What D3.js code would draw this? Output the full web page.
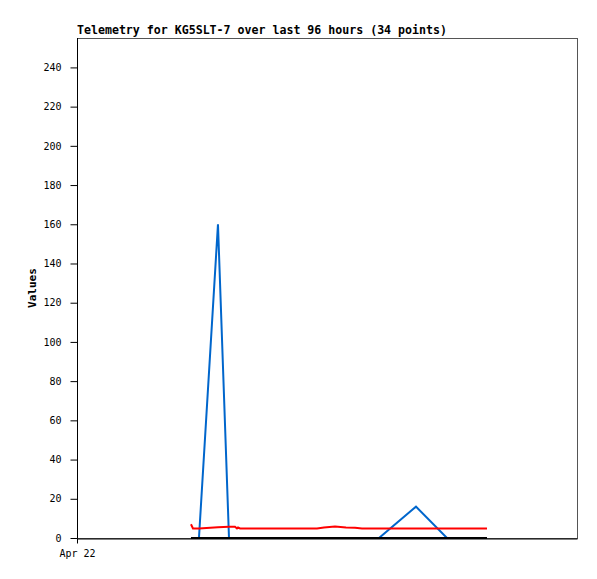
<!DOCTYPE html>
<html>
<head>
<meta charset="utf-8">
<script src="https://cdn.jsdelivr.net/npm/d3@7"></script>
<style>
  body { margin: 0; background: #fff; }
  text { font-family: "DejaVu Sans Mono", "Liberation Mono", monospace; }
</style>
</head>
<body>
<svg id="chart" width="597" height="579"></svg>
<script>
var times = [
  "2024-04-22T21:53", "2024-04-22T22:16", "2024-04-22T23:25", "2024-04-23T03:04",
  "2024-04-23T05:11", "2024-04-23T05:57", "2024-04-23T06:20", "2024-04-23T06:43",
  "2024-04-23T06:55", "2024-04-23T07:18", "2024-04-23T09:13", "2024-04-23T11:08",
  "2024-04-23T13:03", "2024-04-23T14:59", "2024-04-23T16:54", "2024-04-23T18:49",
  "2024-04-23T20:44", "2024-04-23T22:05", "2024-04-23T23:25", "2024-04-24T01:32",
  "2024-04-24T03:39", "2024-04-24T05:23", "2024-04-24T06:43", "2024-04-24T08:15",
  "2024-04-24T09:59", "2024-04-24T17:05", "2024-04-24T23:02", "2024-04-24T23:48",
  "2024-04-25T00:35", "2024-04-25T01:55", "2024-04-25T03:16", "2024-04-25T04:36",
  "2024-04-25T05:46", "2024-04-25T06:43"
];

var blueValues = [
  0, 0, 0, 160, 0, 0, 0, 0, 0, 0, 0, 0, 0, 0, 0, 0, 0,
  0, 0, 0, 0, 0, 0, 0, 0, 16, 0, 0, 0, 0, 0, 0, 0, 0
];

var redValues = [
  7.0, 4.9, 4.9, 5.5, 5.8, 5.8, 5.8, 4.9, 5.4, 4.9, 4.9, 4.9, 4.9, 4.9, 4.9, 4.9, 4.9,
  4.9, 5.4, 5.8, 5.4, 5.2, 4.9, 4.9, 4.9, 4.9, 4.9, 4.9, 4.9, 4.9, 4.9, 4.9, 4.9, 4.9
];

var blackValues = [
  0, 0, 0, 0, 0, 0, 0, 0, 0, 0, 0, 0, 0, 0, 0, 0, 0,
  0, 0, 0, 0, 0, 0, 0, 0, 0, 0, 0, 0, 0, 0, 0, 0, 0
];

var yTicks = [0, 20, 40, 60, 80, 100, 120, 140, 160, 180, 200, 220, 240];
var xTickLabels = ["Apr 22"];
var xDomain = ["2024-04-22T00:00", "2024-04-26T00:00"];

var margin = {top: 38, right: 20, bottom: 41, left: 77},
  width = 597,
  height = 579,
  innerWidth = width - margin.left - margin.right,
  innerHeight = height - margin.top - margin.bottom,
  parseTime = d3.timeParse("%Y-%m-%dT%H:%M"),
  svg = d3.select("#chart"),
  chartInner = svg.append("g")
    .attr("transform", "translate(" + margin.left + "," + margin.top + ")"),
  x = d3.scaleTime()
    .domain(xDomain.map(parseTime))
    .range([0, innerWidth]),
  y = d3.scaleLinear()
    .domain([0, 255])
    .range([innerHeight, 0]),
  series = [
    {values: blueValues, color: "#0066cc"},
    {values: redValues, color: "#ff0000"},
    {values: blackValues, color: "#000000"}
  ],
  line = d3.line()
    .x(function(d) { return x(d.t); })
    .y(function(d) { return y(d.v); });

// frame, top and right
chartInner.append("rect")
  .attr("x", 0.5)
  .attr("y", 0.5)
  .attr("width", innerWidth)
  .attr("height", innerHeight)
  .attr("fill", "none")
  .attr("stroke", "#555");

svg.append("text")
  .attr("x", margin.left)
  .attr("y", 34)
  .attr("font-size", "11.6px")
  .attr("font-weight", "bold")
  .attr("fill", "#000")
  .text("Telemetry for KG5SLT-7 over last 96 hours (34 points)");

var yAxisObj = chartInner.append("g")
  .attr("transform", "translate(0.5,0)")
  .call(
    d3.axisLeft(y)
      .tickValues(yTicks)
      .tickSize(7)
      .tickPadding(9)
  );
yAxisObj.select(".domain").attr("d", "M0," + innerHeight + "V0");
yAxisObj.selectAll("text")
  .attr("font-size", "10px")
  .attr("font-family", "DejaVu Sans Mono, monospace");

var xAxisObj = chartInner.append("g")
  .attr("transform", "translate(0," + (innerHeight + 0.5) + ")")
  .call(
    d3.axisBottom(x)
      .tickValues([x.domain()[0]])
      .tickFormat(function(d, i) { return xTickLabels[i]; })
      .tickSize(5)
      .tickSizeOuter(0)
      .tickPadding(6)
  );
xAxisObj.selectAll("text")
  .attr("font-size", "10px")
  .attr("font-family", "DejaVu Sans Mono, monospace");

svg.append("text")
  .attr("transform", "translate(36," + (margin.top + innerHeight / 2) + ") rotate(-90)")
  .attr("text-anchor", "middle")
  .attr("font-size", "11px")
  .attr("font-weight", "bold")
  .attr("fill", "#000")
  .text("Values");

chartInner.append("g")
  .attr("class", "data")
  .selectAll("path")
  .data(series)
  .enter()
    .append("path")
      .attr("fill", "none")
      .attr("stroke", function(d) { return d.color; })
      .attr("stroke-width", 2)
      .attr("d", function(d) {
        return line(d.values.map(function(v, i) {
          return {t: parseTime(times[i]), v: v};
        }));
      });
</script>
</body>
</html>
